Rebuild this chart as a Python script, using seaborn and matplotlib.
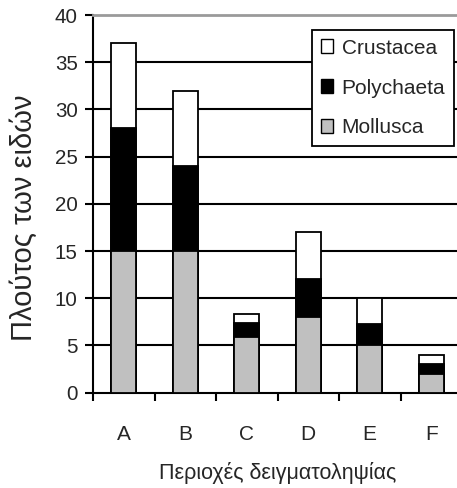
import matplotlib
matplotlib.use("Agg")
import matplotlib.pyplot as plt
import seaborn as sns
import pandas as pd
import numpy as np
from matplotlib.patches import Patch

categories = ["A", "B", "C", "D", "E", "F"]
mollusca = [15, 15, 5.9, 8, 5, 2]
polychaeta = [13, 9, 1.5, 4, 2.3, 1]
crustacea = [9, 8, 0.9, 5, 2.7, 1]
yticks = [0, 5, 10, 15, 20, 25, 30, 35, 40]
xlabel = "Περιοχές δειγματοληψίας"
ylabel = "Πλούτος των ειδών"

sns.set_theme(style="white")
plt.rcParams["font.family"] = ["Liberation Sans", "DejaVu Sans"]

df = pd.DataFrame({
    "cat": categories,
    "Mollusca": mollusca,
    "Polychaeta": polychaeta,
    "Crustacea": crustacea,
})
df["lvl1"] = df["Mollusca"]
df["lvl2"] = df["Mollusca"] + df["Polychaeta"]
df["lvl3"] = df["lvl2"] + df["Crustacea"]

fig = plt.figure(figsize=(4.57, 4.88), dpi=100)
ax = fig.add_axes([93/457, (488-392.7)/488, (462-93)/457, (392.7-15)/488])

for col, color in [("lvl3", "white"), ("lvl2", "black"), ("lvl1", "#c0c0c0")]:
    sns.barplot(data=df, x="cat", y=col, color=color, edgecolor="black",
                linewidth=1.3, width=0.4, ax=ax, saturation=1, zorder=3)

ax.set_ylim(0, 40)
ax.set_xlim(-0.5, 5.5)
ax.set_yticks(yticks)
ax.set_yticklabels([str(v) for v in yticks], fontsize=14.8)
for v in yticks[1:-1]:
    ax.axhline(v, color="black", lw=1.5, zorder=1)

ax.set_xticks(range(len(categories)))
ax.set_xticklabels(categories, fontsize=15)
ax.set_xticks(np.arange(-0.5, 6.0, 1.0), minor=True)
ax.tick_params(axis="x", which="major", length=0, pad=23.5)
ax.tick_params(axis="x", which="minor", length=5.5, width=1.5, color="black", direction="out", bottom=True)
ax.tick_params(axis="y", which="major", length=6, width=1.5, color="black", direction="out", left=True, pad=5)

ax.spines["right"].set_visible(False)
ax.spines["top"].set_color("#9a9a9a")
ax.spines["top"].set_linewidth(2)
ax.spines["left"].set_color("black")
ax.spines["left"].set_linewidth(1.5)
ax.spines["bottom"].set_color("black")
ax.spines["bottom"].set_linewidth(1.5)

ax.set_xlabel(xlabel, fontsize=15.5, labelpad=13)
ax.set_ylabel(ylabel, fontsize=21)
ax.yaxis.set_label_coords((38 - 93) / 369, (392.7 - 218) / 377.7)

handles = [Patch(facecolor="white", edgecolor="black", lw=1),
           Patch(facecolor="black", edgecolor="black", lw=1),
           Patch(facecolor="#c0c0c0", edgecolor="black", lw=1)]
leg = ax.legend(handles, ["Crustacea", "Polychaeta", "Mollusca"],
                loc="upper left", bbox_to_anchor=(312/457, 1-30/488),
                bbox_transform=fig.transFigure, fontsize=15, frameon=True,
                fancybox=False, edgecolor="black", framealpha=1,
                handlelength=0.6, handleheight=0.65, handletextpad=0.4,
                borderpad=0.42, labelspacing=1.0, borderaxespad=0)
leg.get_frame().set_linewidth(1.3)
leg.set_zorder(5)

fig.savefig("out.png", dpi=100)
